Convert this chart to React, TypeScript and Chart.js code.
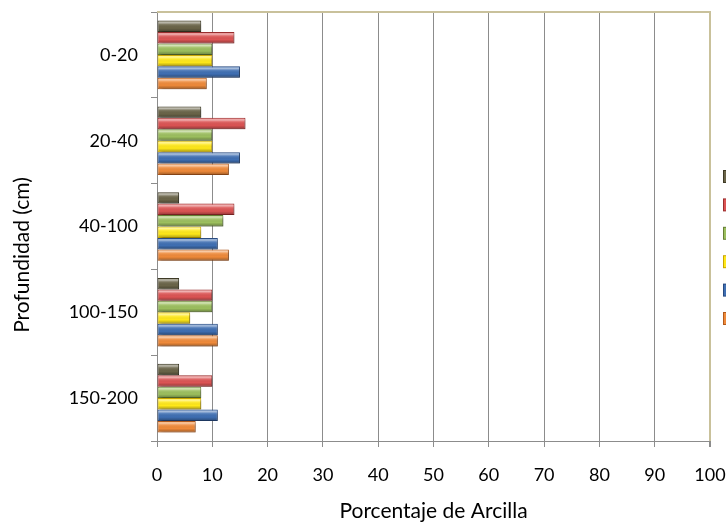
import React, { useEffect, useRef } from "react";
import { Chart, registerables } from "chart.js";

Chart.register(...registerables);

// ---- Data ----
const categories = ["0-20", "20-40", "40-100", "100-150", "150-200"];
const seriesNames = ["Serie 6", "Serie 5", "Serie 4", "Serie 3", "Serie 2", "Serie 1"];
const seriesOlive = [8, 8, 4, 4, 4];
const seriesRed = [14, 16, 14, 10, 10];
const seriesGreen = [10, 10, 12, 10, 8];
const seriesYellow = [10, 10, 8, 6, 8];
const seriesBlue = [15, 15, 11, 11, 11];
const seriesOrange = [9, 13, 13, 11, 7];
const xMin = 0;
const xMax = 100;
const xStep = 10;
const xTitle = "Porcentaje de Arcilla";
const yTitle = "Profundidad (cm)";

const fills = ["#6a6448", "#dc5454", "#9cbf5e", "#ffe81a", "#3f6fb3", "#ef8a3a"];
const edges = ["#3e3a26", "#9a2e2e", "#667f36", "#c9a600", "#274a80", "#b25a1c"];

const FONT = "Lato, 'Open Sans', sans-serif";
const GRID = "#8c8c8c";
const GOLD = "#c9c19b";

const bevelPlugin = {
  id: "bevel",
  beforeDatasetsDraw(chart: any) {
    const ctx = chart.ctx;
    ctx.save();
    ctx.shadowColor = "rgba(0,0,0,0.35)";
    ctx.shadowBlur = 3;
    ctx.shadowOffsetX = 2;
    ctx.shadowOffsetY = 2;
  },
  afterDatasetsDraw(chart: any) {
    const ctx = chart.ctx;
    ctx.restore();
    chart.data.datasets.forEach((_: any, di: number) => {
      const meta = chart.getDatasetMeta(di);
      meta.data.forEach((el: any) => {
        const { x, y, base, height } = el.getProps(["x", "y", "base", "height"], true);
        const y0 = y - height / 2;
        const y1 = y + height / 2;
        const g = ctx.createLinearGradient(0, y0, 0, y1);
        g.addColorStop(0, "rgba(255,255,255,0.15)");
        g.addColorStop(0.18, "rgba(255,255,255,0.55)");
        g.addColorStop(0.35, "rgba(255,255,255,0.12)");
        g.addColorStop(0.65, "rgba(0,0,0,0)");
        g.addColorStop(1, "rgba(0,0,0,0.35)");
        ctx.save();
        ctx.fillStyle = g;
        ctx.fillRect(Math.min(base, x) + 1, y0 + 1, Math.abs(x - base) - 2, height - 2);
        ctx.restore();
      });
    });
  },
};

const decoPlugin = {
  id: "deco",
  afterDraw(chart: any) {
    const ctx = chart.ctx;
    const a = chart.chartArea;
    ctx.save();
    // top border
    ctx.strokeStyle = GOLD;
    ctx.lineWidth = 2;
    ctx.beginPath();
    ctx.moveTo(a.left, a.top);
    ctx.lineTo(a.right + 1, a.top);
    ctx.stroke();
    // y title
    ctx.fillStyle = "#000";
    ctx.font = `21px ${FONT}`;
    ctx.textAlign = "center";
    ctx.textBaseline = "middle";
    ctx.translate(22, 255);
    ctx.rotate(-Math.PI / 2);
    ctx.fillText(yTitle, 0, 0);
    ctx.restore();
    // legend markers (cut off at the right edge)
    ctx.save();
    fills.forEach((c, i) => {
      const top = 170 + i * 28.4;
      ctx.fillStyle = edges[i];
      ctx.fillRect(723, top, 8, 13);
      ctx.fillStyle = c;
      ctx.fillRect(724, top + 1, 8, 11);
    });
    ctx.restore();
  },
};

export default function App() {
  const ref = useRef<HTMLCanvasElement | null>(null);
  useEffect(() => {
    if (!ref.current) return;
    const series = [seriesOlive, seriesRed, seriesGreen, seriesYellow, seriesBlue, seriesOrange];
    const chart = new Chart(ref.current, {
      type: "bar",
      data: {
        labels: categories,
        datasets: series.map((d, i) => ({
          label: seriesNames[i],
          data: d,
          backgroundColor: fills[i],
          borderColor: edges[i],
          borderWidth: 1,
          borderSkipped: false,
          categoryPercentage: 0.8,
          barPercentage: 1.0,
        })),
      },
      options: {
        indexAxis: "y",
        animation: false,
        responsive: true,
        maintainAspectRatio: false,
        layout: { padding: { top: 12, right: 0, bottom: 0, left: 0 } },
        plugins: {
          legend: { display: false },
          tooltip: { enabled: false },
        },
        scales: {
          x: {
            type: "linear",
            position: "bottom",
            min: xMin,
            max: xMax,
            ticks: { stepSize: xStep, color: "#000", padding: 17, font: { family: FONT, size: 18 } },
            grid: {
              color: (c: any) => (c.tick && c.tick.value === xMax ? GOLD : GRID),
              lineWidth: (c: any) => (c.tick && c.tick.value === xMax ? 2 : 1),
              tickColor: GRID,
              tickLength: 6,
            },
            border: { color: GRID, width: 1 },
            title: {
              display: true,
              text: xTitle,
              color: "#000",
              font: { family: FONT, size: 21 },
              padding: { top: 0, bottom: 0 },
            },
            afterFit: (s: any) => {
              s.height = 83;
              s.paddingLeft = 0;
              s.paddingRight = 16;
            },
          },
          y: {
            type: "category",
            ticks: { color: "#000", padding: 13, font: { family: FONT, size: 18 } },
            grid: {
              drawOnChartArea: false,
              offset: true,
              color: GRID,
              tickLength: 6,
            },
            border: { color: GRID, width: 1 },
            afterFit: (s: any) => {
              s.width = 157;
              s.paddingTop = 0;
              s.paddingBottom = 0;
            },
          },
        },
      },
      plugins: [bevelPlugin, decoPlugin],
    });
    return () => chart.destroy();
  }, []);
  return (
    <div style={{ position: "fixed", left: 0, top: 0, width: 726, height: 524, background: "#fff" }}>
      <canvas ref={ref} />
    </div>
  );
}
